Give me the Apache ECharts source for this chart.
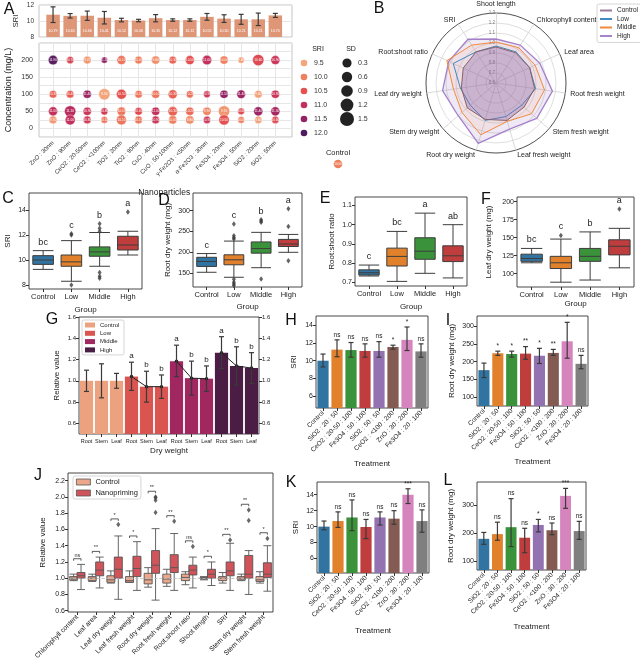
<!DOCTYPE html>
<html><head><meta charset="utf-8">
<script src="https://cdn.jsdelivr.net/npm/echarts@6/dist/echarts.min.js"></script>
<style>html,body{margin:0;padding:0;background:#fff}#c{width:640px;height:663px}</style>
</head><body><div id="c"></div>
<script>
const FONT = 'Liberation Sans';
const TXT = '#222';

// ---------- Panel A data ----------
const npNames = ['ZnO : 30nm','ZnO : 90nm','CeO2 : 20-50nm','CeO2 : <100nm','TiO2 : 20nm','TiO2 : 90nm','CuO : 40nm','CuO : 50-100nm','γ-Fe2O3 : <50nm','α-Fe2O3 : 30nm','Fe3O4 : 20nm','Fe3O4 : 50nm','SiO2 : 20nm','SiO2 : 50nm'];
const npSriMean = [10.79,10.65,10.66,10.41,10.12,10.06,10.35,10.12,10.12,10.52,10.30,10.21,10.21,10.70];
const npSriSd   = [0.98,0.28,0.58,0.78,0.22,0.15,0.45,0.15,0.15,0.42,0.48,0.62,0.78,0.25];
const concLevels = [200,100,50,25];
const sri200 = [11.9,10.7,9.7,11.5,10.1,10.0,9.8,10.3,10.5,11.0,10.0,9.6,10.6,10.9];
const sd200  = [1.0,0.5,0.6,0.3,0.9,0.6,0.7,0.6,0.9,1.0,0.7,0.3,1.4,0.9];
const sri100 = [10.3,10.4,11.4,9.5,10.5,10.1,10.1,10.3,10.2,10.9,11.5,11.4,9.6,10.9];
const sd100  = [0.6,0.6,0.7,1.4,1.1,0.6,0.7,0.9,0.5,0.4,0.7,0.8,0.6,0.7];
const sri50  = [11.0,11.1,10.9,10.8,10.1,10.6,11.0,10.3,10.2,9.9,9.7,10.6,11.4,11.3];
const sd50   = [0.9,1.4,0.7,0.5,0.8,0.6,0.7,1.0,0.7,0.7,1.4,0.4,0.9,0.9];
const sri25  = [9.7,11.0,10.8,10.1,10.1,10.1,10.9,10.0,9.8,10.9,10.5,10.0,9.6,10.6];
const sd25   = [0.6,1.1,0.6,0.4,1.1,0.6,0.6,0.7,0.7,0.5,1.2,0.4,0.5,0.5];
const controlSri = 10.0;
const sriLegendVals = [9.5,10.0,10.5,11.0,11.5,12.0];
const sdLegendVals = [0.3,0.6,0.9,1.2,1.5];

// ---------- Panel B data ----------
const radarAxes = ['Shoot length','SRI','Root:shoot ratio','Leaf dry weight','Stem dry weight','Root dry weight','Leaf fresh weight','Stem fresh weight','Root fresh weight','Leaf area','Chlorophyll content'];
const radarControl = [0.96,0.97,0.96,0.95,0.98,0.98,0.99,0.97,0.99,0.97,0.96];
const radarLow     = [0.97,0.97,1.07,0.96,0.94,0.99,0.95,0.94,1.00,0.97,0.97];
const radarMiddle  = [1.01,1.05,1.14,1.03,1.05,1.14,1.00,1.07,1.09,1.03,1.02];
const radarHigh    = [1.04,1.12,1.12,1.14,1.10,1.23,1.08,1.14,1.17,1.08,1.05];

// ---------- Panels C-F data ----------
const groups = ['Control','Low','Middle','High'];
const sriBox = [[9.25,9.65,10.0,10.35,10.75],[8.3,9.5,9.85,10.4,11.55],[9.5,10.3,10.65,11.05,12.2],[10.4,10.8,11.2,11.9,12.3]];
const sriOut = [[],[12.0,12.1,8.0],[12.3,12.55,12.9,9.0,8.7,8.55],[13.85]];
const sriLetters = ['bc','c','b','a'];
const rdwBox = [[152,166,178,188,197],[140,170,182,194,227],[163,198,209,225,248],[200,214,220,231,243]];
const rdwOut = [[],[268,240,235,232,135,128,124,120],[278,275,272,136],[305,262,180]];
const rdwLetters = ['c','c','b','a'];
const rsrBox = [[0.733,0.738,0.75,0.765,0.79],[0.705,0.785,0.835,0.878,0.965],[0.747,0.82,0.862,0.932,1.06],[0.723,0.808,0.838,0.89,1.0]];
const rsrOut = [[],[],[],[]];
const rsrLetters = ['c','bc','a','ab'];
const ldwBox = [[115,117,121,127,135],[88,107,115,124,148],[91,117,124,135,158],[108,126,138,147,163]];
const ldwOut = [[],[153],[],[190]];
const ldwLetters = ['bc','c','b','a'];

// ---------- Panel G data ----------
const gParts = ['Root','Stem','Leaf'];
const gGroups = ['Control','Low','Middle','High'];
const gControl = [1.0,1.0,1.0],    gControlLo = [0.90,0.84,0.93],  gControlHi = [1.10,1.16,1.07];
const gLow     = [1.04,0.945,0.945], gLowLo = [0.91,0.80,0.835], gLowHi = [1.175,1.09,1.055];
const gMiddle  = [1.185,1.025,1.02], gMiddleLo = [1.04,0.865,0.90], gMiddleHi = [1.335,1.185,1.14];
const gHigh    = [1.265,1.14,1.12],  gHighLo = [1.115,0.96,0.975], gHighHi = [1.415,1.32,1.265];
const gLetters = [['','',''],['a','b','b'],['a','b','b'],['a','b','b']];

// ---------- Panels H, I, K, L data ----------
const treatments = ['Control','SiO2 : 20 : 50','CeO2 : 20-50 : 100','Fe3O4 : 50 : 100','SiO2 : 50 : 50','CeO2 : <100 : 200','ZnO : 30 : 200','Fe3O4 : 20 : 100'];
const hMean = [10.0,11.25,11.2,11.1,11.1,11.55,12.35,11.05];
const hLo   = [9.3,10.45,10.4,10.4,10.4,11.3,11.15,10.4];
const hHi   = [10.75,12.35,12.05,11.9,12.15,11.75,13.8,11.9];
const hSig  = ['','ns','ns','ns','ns','*','*','ns'];
const iMean = [176,224,222,223,217,225,258,194];
const iLo   = [155,218,213,207,195,218,210,180];
const iHi   = [196,230,230,243,238,235,312,218];
const iSig  = ['','*','*','**','*','**','*','ns'];
const kMean = [10.0,10.7,11.15,9.95,11.15,11.0,14.0,10.7];
const kLo   = [9.6,9.9,9.5,8.5,10.2,10.3,12.9,9.3];
const kHi   = [10.7,11.85,13.35,10.9,11.85,12.0,14.75,12.1];
const kSig  = ['','ns','ns','ns','ns','ns','***','ns'];
const lMean = [180,197,222,184,230,211,335,208];
const lLo   = [160,175,152,130,205,195,290,178];
const lHi   = [203,240,325,218,250,237,362,243];
const lSig  = ['','ns','ns','ns','*','ns','***','ns'];

// ---------- Panel J data ----------
const jNames = ['Chlorophyll content','Leaf area','Leaf dry weight','Leaf fresh weight','Root dry weight','Root fresh weight','Root:shoot ratio','Shoot length','SRI','Stem dry weight','Stem fresh weight'];
const jCtrl = [[0.97,0.98,1.0,1.02,1.05],[0.96,0.97,1.0,1.02,1.05],[0.94,0.95,0.98,1.03,1.09],[0.95,0.95,0.97,1.02,1.09],[0.89,0.93,0.98,1.06,1.13],[0.90,0.94,0.99,1.05,1.11],[0.92,0.97,1.01,1.05,1.08],[0.98,0.99,1.0,1.01,1.02],[0.94,0.97,1.0,1.02,1.07],[0.97,0.98,1.0,1.02,1.05],[0.94,0.96,0.98,1.02,1.08]];
const jNano = [[0.86,1.0,1.03,1.07,1.17],[0.88,1.03,1.10,1.20,1.26],[0.74,1.0,1.11,1.26,1.52],[0.85,1.02,1.12,1.27,1.45],[0.73,1.06,1.16,1.34,1.61],[0.85,1.07,1.13,1.29,1.55],[0.88,1.04,1.10,1.16,1.26],[0.91,1.0,1.05,1.11,1.20],[0.85,1.03,1.09,1.20,1.43],[0.80,1.0,1.05,1.28,1.34],[0.84,1.01,1.05,1.19,1.40]];
const jNanoOut = [[],[],[1.66],[],[1.81,1.96,1.99,2.0],[1.70],[1.39],[],[1.47],[1.71,1.84],[1.49]];
const jCtrlOut = [[],[],[],[],[],[],[],[],[],[],[]];
const jSig = ['ns','**','*','*','**','**','ns','*','**','**','*'];

// ---------- styles / helpers ----------
const boxColors = ['#3274a1','#e1812c','#3a923a','#c03d3e'];
const barColors = ['#3274a1','#e1812c','#3a923a','#c03d3e','#9372b2','#845b53','#d684bd','#7f7f7f'];
const gColors = ['#eca27f','#da5550','#a0275f','#4b1d45'];
const jColors = ['#eca68a','#d0545a'];
const sriStops = [[9.5,'#f3a67c'],[10.0,'#ee7f5f'],[10.5,'#e4514f'],[11.0,'#c3305c'],[11.5,'#922366'],[12.0,'#4f1c5f']];
function hex2rgb(h){return [1,3,5].map(i=>parseInt(h.substr(i,2),16));}
function sriColor(v){
  if (v<=sriStops[0][0]) return sriStops[0][1];
  for (let i=1;i<sriStops.length;i++){
    if (v<=sriStops[i][0]){
      const t=(v-sriStops[i-1][0])/(sriStops[i][0]-sriStops[i-1][0]);
      const a=hex2rgb(sriStops[i-1][1]), b=hex2rgb(sriStops[i][1]);
      return 'rgb('+a.map((x,k)=>Math.round(x+(b[k]-x)*t)).join(',')+')';
    }
  }
  return sriStops[sriStops.length-1][1];
}
const bubbleSize = sd => 5 + sd*4.5;
const legendSize = sd => 8 + sd*4;

const grids = [
  {left:39,top:5,width:253,height:32, show:true, borderColor:'#c4c4c4', borderWidth:1},
  {left:44.5,top:5,width:239.4,height:32},
  {left:39,top:43,width:253,height:94, show:true, borderColor:'#c4c4c4', borderWidth:1},
  {left:44.5,top:43,width:239.4,height:94},
  {left:29,top:193,width:113,height:96},
  {left:193,top:193,width:109,height:94},
  {left:355,top:197,width:112,height:89},
  {left:517,top:197,width:117,height:90},
  {left:79,top:317,width:180,height:117},
  {left:316,top:316,width:112,height:92},
  {left:477,top:316,width:111,height:90},
  {left:68,top:473,width:205,height:139},
  {left:317,top:482,width:112,height:91},
  {left:477,top:482,width:109,height:88}
].map((g,i)=>Object.assign({outerBoundsMode:'none', containLabel:false}, i>=4?{show:true,borderColor:'#333',borderWidth:0.9}:{}, g));

function yVal(gi, min, max, step, name, gap, o){
  o = o || {};
  return {type:'value', gridIndex:gi, min, max, minInterval:step, maxInterval:step, position:o.position||'left',
    axisLine:{show:false}, axisTick:{show:true,length:3,lineStyle:{color:'#333'}}, splitLine:{show:false},
    axisLabel:{fontSize:7, color:TXT, margin:3, showMinLabel:!!o.showMin, showMaxLabel:!!o.showMax, formatter:o.fmt},
    name, nameLocation:'middle', nameGap:gap, nameTextStyle:{fontSize:8, color:TXT}};
}
function xCat(gi, data, name, gap, o){
  o = o || {};
  return {type:'category', gridIndex:gi, data, axisLine:{show:false},
    axisTick:{show:true, alignWithLabel:true, length:3, lineStyle:{color:'#333'}},
    axisLabel:{fontSize:o.fs||7.5, color:TXT, margin:4, interval:0, rotate:o.rotate||0},
    splitLine:{show:false}, name, nameLocation:'middle', nameGap:gap, nameTextStyle:{fontSize:8, color:TXT}};
}
function errSeries(ax, rows, labels, cap, fs, gap){
  return {type:'custom', xAxisIndex:ax, yAxisIndex:ax, data:rows, encode:{x:0,y:[1,2]}, z:5, silent:true,
    renderItem:(params, api)=>{
      const x=api.value(0), a=api.coord([x,api.value(1)]), b=api.coord([x,api.value(2)]);
      const st={stroke:'#3a3a3a', lineWidth:1.2};
      const ch=[{type:'line',shape:{x1:a[0],y1:a[1],x2:b[0],y2:b[1]},style:st},
        {type:'line',shape:{x1:a[0]-cap,y1:a[1],x2:a[0]+cap,y2:a[1]},style:st},
        {type:'line',shape:{x1:b[0]-cap,y1:b[1],x2:b[0]+cap,y2:b[1]},style:st}];
      const t = labels ? labels[params.dataIndex] : '';
      if (t) ch.push({type:'text', style:{text:t, x:b[0], y:b[1]-gap, align:'center', verticalAlign:'bottom', fontSize:fs, fill:TXT, fontFamily:FONT}});
      return {type:'group', children:ch};
    }};
}
function textSeries(ax, rows, labels, fs, gap){
  return {type:'custom', xAxisIndex:ax, yAxisIndex:ax, data:rows, encode:{x:0,y:1}, z:6, silent:true,
    renderItem:(params, api)=>{
      const p=api.coord([api.value(0), api.value(1)]);
      return {type:'text', style:{text:labels[params.dataIndex], x:p[0], y:p[1]-gap, align:'center', verticalAlign:'bottom', fontSize:fs, fill:TXT, fontFamily:FONT}};
    }};
}
function boxPanel(ax, boxes, outs, letters){
  const out=[]; outs.forEach((arr,i)=>arr.forEach(v=>out.push([i,v])));
  const tops = boxes.map((b,i)=>[i, Math.max(...b, ...outs[i])]);
  return [
    {type:'boxplot', xAxisIndex:ax, yAxisIndex:ax, data:boxes.map((b,i)=>({value:b, itemStyle:{color:boxColors[i], borderColor:'#3d3d3d', borderWidth:1}})), itemStyle:{borderColor:'#3d3d3d', borderWidth:1}},
    {type:'scatter', xAxisIndex:ax, yAxisIndex:ax, data:out, symbol:'diamond', symbolSize:[4,5.5], itemStyle:{color:'#3d3d3d'}},
    textSeries(ax, tops, letters, 9, 4)
  ];
}
function barPanel(ax, means, lo, hi, sig){
  return [
    {type:'bar', xAxisIndex:ax, yAxisIndex:ax, barCategoryGap:'20%', data:means.map((v,i)=>({value:v, itemStyle:{color:barColors[i]}}))},
    errSeries(ax, means.map((v,i)=>[i, lo[i], hi[i]]), sig, 2.5, 6.5, 1.5)
  ];
}

// ---------- axes ----------
const xAxes = [
  {type:'value', gridIndex:0, min:0, max:1, show:false},
  {type:'category', gridIndex:1, data:npNames, show:false},
  {type:'value', gridIndex:2, min:0, max:1, show:false},
  {type:'value', gridIndex:3, min:-0.5, max:13.5, minInterval:1, maxInterval:1,
    axisLine:{show:false}, axisTick:{show:false},
    splitLine:{show:true, showMinLine:false, showMaxLine:false, lineStyle:{color:'#e6e6e6', width:1}},
    axisLabel:{fontSize:6, color:'#333', rotate:45, margin:5, showMinLabel:false, showMaxLabel:false,
      formatter:v=> (Number.isInteger(v) && npNames[v]) ? npNames[v] : ''},
    name:'Nanoparticles', nameLocation:'middle', nameGap:51, nameTextStyle:{fontSize:8.5, color:TXT}},
  xCat(4, groups, 'Group', 17),
  xCat(5, groups, 'Group', 16),
  xCat(6, groups, 'Group', 17),
  xCat(7, groups, 'Group', 13),
  xCat(8, gGroups.flatMap(()=>gParts), 'Dry weight', 13, {fs:5.5}),
  xCat(9, treatments, 'Treatment', 52, {rotate:45, fs:6.5}),
  xCat(10, treatments, 'Treatment', 52, {rotate:45, fs:6.5}),
  xCat(11, jNames, '', 0, {rotate:45, fs:6.8}),
  xCat(12, treatments, 'Treatment', 54, {rotate:45, fs:6.5}),
  xCat(13, treatments, 'Treatment', 53, {rotate:45, fs:6.5})
];
const yAxes = [
  {type:'value', gridIndex:0, min:8, max:12, minInterval:2, maxInterval:2, axisLine:{show:false}, axisTick:{show:false},
    splitLine:{show:true, lineStyle:{color:'#e6e6e6'}}, axisLabel:{fontSize:6.5, color:'#333', margin:5},
    name:'SRI', nameLocation:'middle', nameGap:19, nameTextStyle:{fontSize:7.5, color:TXT}},
  {type:'value', gridIndex:1, min:8, max:12, show:false},
  {type:'value', gridIndex:2, min:-25, max:250, minInterval:25, maxInterval:25, axisLine:{show:false}, axisTick:{show:false},
    splitLine:{show:true, lineStyle:{color:'#e6e6e6'}},
    axisLabel:{fontSize:7, color:'#333', margin:6, formatter:v=>(v>=0 && v<=200 && v%50===0)?String(v):''},
    name:'Concentration (mg/L)', nameLocation:'middle', nameGap:26, nameTextStyle:{fontSize:9, color:TXT}},
  {type:'value', gridIndex:3, min:-25, max:250, show:false},
  yVal(4, 7.68, 15.36, 2, 'SRI', 17),
  yVal(5, 116.6, 342.6, 50, 'Root dry weight (mg)', 21),
  yVal(6, 0.681, 1.144, 0.1, 'Root:shoot ratio', 19, {fmt:v=>v.toFixed(1)}),
  yVal(7, 81.3, 206.6, 25, 'Leaf dry weight (mg)', 24),
  yVal(8, 0.5, 1.6, 0.2, 'Relative value', 18, {fmt:v=>v.toFixed(1), showMax:true}),
  yVal(9, 4.67, 15.04, 2, 'SRI', 18),
  yVal(10, 74, 330, 50, 'Root dry weight (mg)', 21),
  yVal(11, 0.584, 2.295, 0.2, 'Relative value', 21, {fmt:v=>v.toFixed(1)}),
  yVal(12, 4.18, 15.6, 2, 'SRI', 17),
  yVal(13, 67.5, 385, 100, 'Root dry weight (mg)', 22),
  yVal(8, 0.5, 1.6, 0.2, '', 0, {fmt:v=>v.toFixed(1), showMax:true, position:'right'})
];
yAxes[14].axisLabel.fontSize = 6;
yAxes[8].axisLabel.fontSize = 6;

// ---------- series ----------
const series = [];
// A top bars
series.push({type:'bar', xAxisIndex:1, yAxisIndex:1, data:npSriMean, barWidth:13.5, itemStyle:{color:'#de9677'},
  label:{show:true, position:'insideBottom', distance:4, fontSize:3.6, color:'#fff', formatter:p=>p.value.toFixed(2)}});
series.push(errSeries(1, npSriMean.map((v,i)=>[i, v-npSriSd[i], v+npSriSd[i]]), null, 2.5, 6, 2));
// A bubbles
const concSri = {200:sri200, 100:sri100, 50:sri50, 25:sri25};
const concSd  = {200:sd200, 100:sd100, 50:sd50, 25:sd25};
concLevels.forEach(c=>{
  series.push({type:'scatter', xAxisIndex:3, yAxisIndex:3, clip:false,
    data: npNames.map((n,i)=>[i, c, concSri[c][i], concSd[c][i]]),
    symbolSize: v=>bubbleSize(v[3]),
    itemStyle:{color:p=>sriColor(p.value[2]), borderColor:'#fff', borderWidth:0.4, opacity:1},
    label:{show:true, position:'inside', fontSize:3.2, color:'#fff', formatter:p=>p.value[2].toFixed(2)}});
});
// B radar
const rCol = {Control:'#8a5f5a', Low:'#3f8ac0', Middle:'#f08a3c', High:'#a784cc'};
series.push({type:'radar', name:'radar', symbol:'none', z:3,
  data:[
    {name:'High', value:radarHigh, itemStyle:{color:rCol.High}, lineStyle:{color:rCol.High, width:1.3}, areaStyle:{color:'#9467bd', opacity:0.15}},
    {name:'Middle', value:radarMiddle, itemStyle:{color:rCol.Middle}, lineStyle:{color:rCol.Middle, width:1}, areaStyle:{color:'#ff7f0e', opacity:0.07}},
    {name:'Low', value:radarLow, itemStyle:{color:rCol.Low}, lineStyle:{color:rCol.Low, width:1}, areaStyle:{color:'#1f77b4', opacity:0.02}},
    {name:'Control', value:radarControl, itemStyle:{color:'#9a7a9a'}, lineStyle:{color:rCol.Control, width:1}, areaStyle:{color:'#8a60a6', opacity:0.35}}
  ]});
// C-F
series.push(...boxPanel(4, sriBox, sriOut, sriLetters));
series.push(...boxPanel(5, rdwBox, rdwOut, rdwLetters));
series.push(...boxPanel(6, rsrBox, rsrOut, rsrLetters));
series.push(...boxPanel(7, ldwBox, ldwOut, ldwLetters));
// G
const gVals = [gControl, gLow, gMiddle, gHigh];
const gLos = [gControlLo, gLowLo, gMiddleLo, gHighLo];
const gHis = [gControlHi, gLowHi, gMiddleHi, gHighHi];
gGroups.forEach((g,gi)=>{
  const arr = new Array(12).fill(null);
  gParts.forEach((p,pi)=>{ arr[gi*3+pi] = gVals[gi][pi]; });
  series.push({type:'bar', name:g+' ', xAxisIndex:8, yAxisIndex:8, data:arr, barGap:'-100%', barCategoryGap:'12%', itemStyle:{color:gColors[gi]}});
  if (gi>0) series.push({type:'line', xAxisIndex:8, yAxisIndex:8, data:arr, symbol:'circle', symbolSize:3.5, z:4,
    itemStyle:{color:'#222'}, lineStyle:{color:'#222', width:1}});
});
const gErrRows=[], gErrLab=[];
gGroups.forEach((g,gi)=>gParts.forEach((p,pi)=>{ gErrRows.push([gi*3+pi, gLos[gi][pi], gHis[gi][pi]]); gErrLab.push(gLetters[gi][pi]); }));
series.push(errSeries(8, gErrRows, gErrLab, 2.5, 8, 2));
// H, I, K, L
series.push(...barPanel(9, hMean, hLo, hHi, hSig));
series.push(...barPanel(10, iMean, iLo, iHi, iSig));
series.push(...barPanel(12, kMean, kLo, kHi, kSig));
series.push(...barPanel(13, lMean, lLo, lHi, lSig));
// J
const JOFF = 3.7;
series.push({type:'boxplot', name:'Control  ', xAxisIndex:11, yAxisIndex:11, boxWidth:[8,8], data:jCtrl,
  itemStyle:{color:jColors[0], borderColor:'#555', borderWidth:0.9},
  markLine:{silent:true, symbol:'none', label:{show:false}, lineStyle:{color:'#bbb', type:'dashed', width:0.8}, data:[{yAxis:1.0}]}});
series.push({type:'boxplot', name:'Nanopriming', xAxisIndex:11, yAxisIndex:11, boxWidth:[8,8], data:jNano,
  itemStyle:{color:jColors[1], borderColor:'#555', borderWidth:0.9}});
const jOutPts=[]; jNanoOut.forEach((a,i)=>a.forEach(v=>jOutPts.push([i,v])));
series.push({type:'scatter', xAxisIndex:11, yAxisIndex:11, data:jOutPts, symbol:'diamond', symbolSize:[4,5.5], symbolOffset:[JOFF,0], itemStyle:{color:'#444'}});
const jBr = jNames.map((n,i)=>[i, Math.max(...jCtrl[i], ...jNano[i], ...jNanoOut[i], ...jCtrlOut[i]) + 0.07]);
series.push({type:'custom', xAxisIndex:11, yAxisIndex:11, data:jBr, encode:{x:0,y:1}, z:6, silent:true,
  renderItem:(params, api)=>{
    const p=api.coord([api.value(0), api.value(1)]);
    return {type:'group', children:[
      {type:'polyline', shape:{points:[[p[0]-JOFF,p[1]+2],[p[0]-JOFF,p[1]],[p[0]+JOFF,p[1]],[p[0]+JOFF,p[1]+2]]}, style:{stroke:'#333', lineWidth:0.8, fill:null}},
      {type:'text', style:{text:jSig[params.dataIndex], x:p[0], y:p[1]-0.5, align:'center', verticalAlign:'bottom', fontSize:5.5, fill:'#333', fontFamily:FONT}}
    ]};
  }});

// ---------- graphics (panel letters, A legends) ----------
const graphics = [];
[['A',9,10],['B',379,9],['C',8,199],['D',164,201],['E',325,199],['F',486,200],['G',52,320],['H',291,321],['I',448,321],['J',38,476],['K',291,483],['L',448,481]]
  .forEach(([t,x,y])=>graphics.push({type:'text', x, y, style:{text:t, fontSize:16, fill:'#111', fontFamily:FONT, align:'center', verticalAlign:'middle', textAlign:'center', textVerticalAlign:'middle'}}));
graphics.push({type:'text', x:318, y:49, style:{text:'SRI', fontSize:7, fill:TXT, fontFamily:FONT, align:'center', verticalAlign:'middle', textAlign:'center', textVerticalAlign:'middle'}});
sriLegendVals.forEach((v,i)=>{
  graphics.push({type:'circle', shape:{cx:304, cy:63+14*i, r:3.3}, style:{fill:sriColor(v)}});
  graphics.push({type:'text', x:314, y:63+14*i, style:{text:v.toFixed(1), fontSize:7, fill:'#333', fontFamily:FONT, verticalAlign:'middle', textVerticalAlign:'middle'}});
});
graphics.push({type:'text', x:351, y:49, style:{text:'SD', fontSize:7, fill:TXT, fontFamily:FONT, align:'center', verticalAlign:'middle', textAlign:'center', textVerticalAlign:'middle'}});
sdLegendVals.forEach((v,i)=>{
  graphics.push({type:'circle', shape:{cx:347, cy:63+14*i, r:legendSize(v)/2}, style:{fill:'#222'}});
  graphics.push({type:'text', x:358, y:63+14*i, style:{text:v.toFixed(1), fontSize:7, fill:'#333', fontFamily:FONT, verticalAlign:'middle', textVerticalAlign:'middle'}});
});
graphics.push({type:'text', x:338, y:153, style:{text:'Control', fontSize:7.5, fill:TXT, fontFamily:FONT, align:'center', verticalAlign:'middle', textAlign:'center', textVerticalAlign:'middle'}});
graphics.push({type:'circle', shape:{cx:338, cy:164, r:4.3}, style:{fill:sriColor(controlSri)}});
graphics.push({type:'text', x:338, y:164, style:{text:controlSri.toFixed(2), fontSize:3, fill:'#fff', fontFamily:FONT, align:'center', verticalAlign:'middle', textAlign:'center', textVerticalAlign:'middle'}});

const option = {
  animation:false,
  textStyle:{fontFamily:FONT},
  grid:grids, xAxis:xAxes, yAxis:yAxes,
  radar:{
    center:[496,83], radius:70, startAngle:90, shape:'circle', splitNumber:7, nameGap:5,
    indicator: radarAxes.map((n,i)=>({name:n, min:0.6, max:1.3, axisLabel: i===0 ? {show:true, fontSize:4.5, color:'#777', margin:1, formatter:v=>(+v).toFixed(1)} : {show:false}})),
    axisName:{color:TXT, fontSize:7, fontFamily:FONT},
    splitLine:{lineStyle:{color:['#d6d6d6','#d6d6d6','#d6d6d6','#d6d6d6','#d6d6d6','#d6d6d6','#d6d6d6','#222'], width:0.8}},
    splitArea:{show:false},
    axisLine:{lineStyle:{color:'#d0d0d0', width:0.8}},
    axisTick:{show:false},
    axisLabel:{show:false}
  },
  legend:[
    {data:['Control','Low','Middle','High'], orient:'vertical', left:597, top:4, itemWidth:12, itemHeight:2, itemGap:1.5, icon:'rect',
      textStyle:{fontSize:6.5, color:TXT}, borderColor:'#cccccc', borderWidth:0.8, borderRadius:2, padding:[3,3,3,3], selectedMode:false, backgroundColor:'#fff'},
    {data:['Control ','Low ','Middle ','High '], orient:'vertical', left:82, top:320, itemWidth:10, itemHeight:5, itemGap:2.3, icon:'rect',
      textStyle:{fontSize:6, color:TXT}, borderColor:'#cccccc', borderWidth:0.8, borderRadius:2, padding:[2,3,2,3], selectedMode:false, backgroundColor:'#fff'},
    {data:[{name:'Control  ', itemStyle:{color:jColors[0], borderColor:'#555', borderWidth:0.8}}, {name:'Nanopriming', itemStyle:{color:jColors[1], borderColor:'#555', borderWidth:0.8}}],
      orient:'vertical', left:73, top:476, itemWidth:14, itemHeight:6, itemGap:3, icon:'rect',
      textStyle:{fontSize:7.5, color:TXT}, borderColor:'#cccccc', borderWidth:0.8, borderRadius:2, padding:[2,3,2,3], selectedMode:false, backgroundColor:'#fff'}
  ],
  series, graphic:graphics
};
const chart = echarts.init(document.getElementById('c'), null, {renderer:'canvas'});
chart.setOption(option);
</script></body></html>
